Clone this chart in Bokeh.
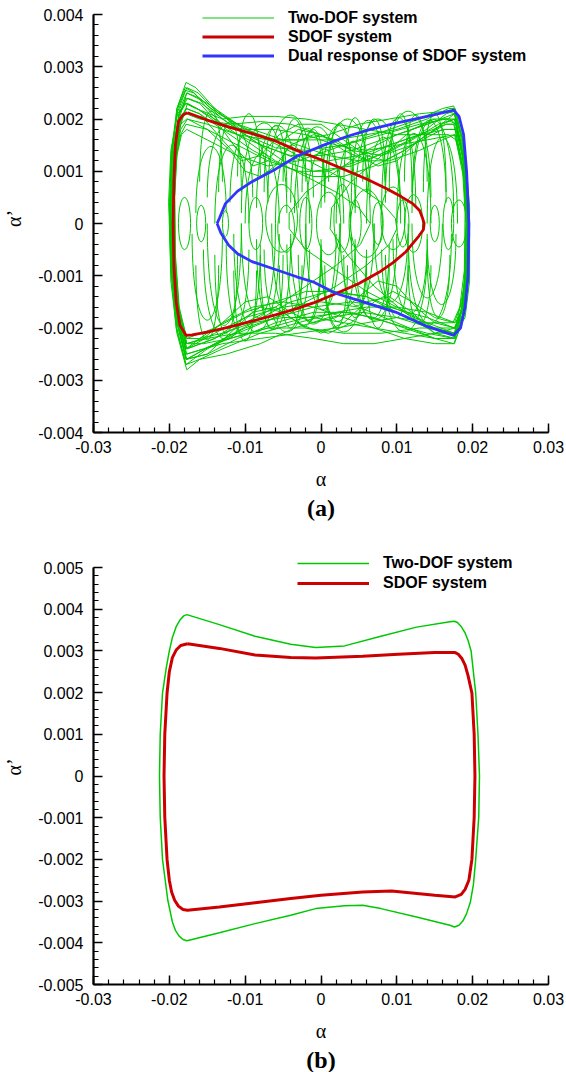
from bokeh.plotting import figure
from bokeh.models import FixedTicker, Legend, LegendItem, Title
from bokeh.layouts import column
from bokeh.embed import file_html
from bokeh.resources import INLINE

# ---------------- tick data ----------------
x_ticks = [-0.03, -0.02, -0.01, 0.0, 0.01, 0.02, 0.03]
x_tick_labels = ["-0.03", "-0.02", "-0.01", "0", "0.01", "0.02", "0.03"]
ya_ticks = [-0.004, -0.003, -0.002, -0.001, 0.0, 0.001, 0.002, 0.003, 0.004]
ya_tick_labels = ["-0.004", "-0.003", "-0.002", "-0.001", "0", "0.001", "0.002", "0.003", "0.004"]
yb_ticks = [-0.005, -0.004, -0.003, -0.002, -0.001, 0.0, 0.001, 0.002, 0.003, 0.004, 0.005]
yb_tick_labels = ["-0.005", "-0.004", "-0.003", "-0.002", "-0.001", "0", "0.001", "0.002", "0.003", "0.004", "0.005"]

# ---------------- panel (a) data ----------------
# SDOF system (red)
sdof_a = [(-0.0176, 0.00212), (-0.0150, 0.00198), (-0.0120, 0.00184), (-0.0091, 0.00172), (-0.0060, 0.00158),
          (-0.0032, 0.00140), (0.0000, 0.00122), (0.0033, 0.00102), (0.0060, 0.00085), (0.0086, 0.00067),
          (0.0105, 0.00052), (0.0121, 0.00038), (0.0130, 0.00025), (0.0134, 0.00010), (0.0136, 0.0),
          (0.0135, -0.00012), (0.0129, -0.00024), (0.0112, -0.00054), (0.0095, -0.00075), (0.0077, -0.00093),
          (0.0050, -0.00115), (0.0020, -0.00134), (-0.0010, -0.00152), (-0.0032, -0.00163), (-0.0060, -0.00175),
          (-0.0091, -0.00187), (-0.0120, -0.00198), (-0.0150, -0.00208), (-0.0170, -0.00213), (-0.0178, -0.00214),
          (-0.0186, -0.00195), (-0.0191, -0.0015), (-0.0194, -0.0008), (-0.0195, 0.0), (-0.0194, 0.0008),
          (-0.0192, 0.0015), (-0.0188, 0.00195), (-0.0182, 0.00208), (-0.0176, 0.00212)]
# Dual response of SDOF system (blue)
dual_a = [(-0.0137, 0.0), (-0.0134, 0.0001), (-0.0126, 0.00038), (-0.0110, 0.00062), (-0.0091, 0.00080),
          (-0.0060, 0.00104), (-0.0030, 0.00130), (0.0000, 0.00148), (0.0033, 0.00166), (0.0065, 0.00180),
          (0.0099, 0.00192), (0.0140, 0.00205), (0.0175, 0.00217), (0.0182, 0.00205), (0.0188, 0.0017),
          (0.0192, 0.0010), (0.0195, 0.0), (0.0194, -0.0010), (0.0190, -0.0016), (0.0184, -0.0020),
          (0.0175, -0.00214), (0.0140, -0.00197), (0.0099, -0.00170), (0.0060, -0.00152), (0.0020, -0.00134),
          (-0.0010, -0.00112), (-0.0032, -0.00102), (-0.0060, -0.00088), (-0.0091, -0.00073), (-0.0110, -0.00058),
          (-0.0122, -0.00041), (-0.0132, -0.00018), (-0.0137, 0.0)]

# Two-DOF system (green): traced orbits
two_dof_a = [
    [(-0.0178, 0.0027), (-0.0165, 0.0026), (-0.0140, 0.0022), (-0.0100, 0.0017), (-0.0060, 0.00145), (-0.0020, 0.0014),
     (0.0030, 0.0015), (0.0080, 0.0017), (0.0130, 0.0019), (0.0165, 0.0020), (0.0178, 0.0019), (0.0188, 0.0012),
     (0.0193, 0.0), (0.0191, -0.0010), (0.0185, -0.0017), (0.0176, -0.0020), (0.0140, -0.0018), (0.0090, -0.0016),
     (0.0040, -0.0015), (-0.0010, -0.0016), (-0.0060, -0.0018), (-0.0110, -0.0021), (-0.0150, -0.0024),
     (-0.0178, -0.0027), (-0.0190, -0.0020), (-0.0197, -0.0010), (-0.0199, 0.0), (-0.0197, 0.0012),
     (-0.0190, 0.0022), (-0.0178, 0.0027)],
    [(-0.0177, 0.0025), (-0.0160, 0.0024), (-0.0130, 0.0020), (-0.0090, 0.0016), (-0.0050, 0.0012), (-0.0010, 0.0010),
     (0.0040, 0.0011), (0.0090, 0.0014), (0.0130, 0.0017), (0.0165, 0.0021), (0.0176, 0.00215), (0.0187, 0.0015),
     (0.0192, 0.0005), (0.0192, -0.0007), (0.0187, -0.0016), (0.0176, -0.0021), (0.0150, -0.0020), (0.0110, -0.0017),
     (0.0060, -0.0014), (0.0010, -0.0013), (-0.0040, -0.0015), (-0.0090, -0.0019), (-0.0140, -0.0023),
     (-0.0177, -0.0026), (-0.0189, -0.0019), (-0.0195, -0.0008), (-0.0196, 0.0004), (-0.0193, 0.0015),
     (-0.0186, 0.0022), (-0.0177, 0.0025)],
    [(-0.0178, 0.0021), (-0.0160, 0.0020), (-0.0120, 0.0019), (-0.0080, 0.00195), (-0.0040, 0.0019), (0.0000, 0.0017),
     (0.0040, 0.0014), (0.0080, 0.0013), (0.0120, 0.0015), (0.0160, 0.0018), (0.0177, 0.0018), (0.0188, 0.0010),
     (0.0191, 0.0), (0.0189, -0.0011), (0.0184, -0.0018), (0.0175, -0.0022), (0.0150, -0.0022), (0.0110, -0.0020),
     (0.0070, -0.0018), (0.0030, -0.0017), (-0.0020, -0.0018), (-0.0070, -0.0020), (-0.0120, -0.0022),
     (-0.0155, -0.0023), (-0.0177, -0.0023), (-0.0187, -0.0017), (-0.0192, -0.0007), (-0.0193, 0.0005),
     (-0.0190, 0.0015), (-0.0184, 0.0020), (-0.0178, 0.0021)],
    [(-0.0179, 0.0023), (-0.0165, 0.0022), (-0.0130, 0.0020), (-0.0100, 0.00205), (-0.0060, 0.00205), (-0.0020, 0.0020),
     (0.0020, 0.0019), (0.0060, 0.0018), (0.0100, 0.0017), (0.0140, 0.0017), (0.0168, 0.0017), (0.0178, 0.0016),
     (0.0189, 0.0008), (0.0196, -0.0002), (0.0193, -0.0012), (0.0186, -0.0019), (0.0175, -0.0023), (0.0150, -0.0022),
     (0.0100, -0.0019), (0.0050, -0.0016), (0.0000, -0.0015), (-0.0050, -0.0016), (-0.0100, -0.0018),
     (-0.0140, -0.0021), (-0.0178, -0.0024), (-0.0191, -0.0018), (-0.0198, -0.0007), (-0.0201, 0.0004),
     (-0.0198, 0.0014), (-0.0189, 0.0021), (-0.0179, 0.0023)],
    [(-0.0177, 0.0026), (-0.0162, 0.0025), (-0.0135, 0.0021), (-0.0100, 0.0018), (-0.0060, 0.0016), (-0.0020, 0.0016),
     (0.0020, 0.0016), (0.0060, 0.0017), (0.0100, 0.0018), (0.0140, 0.0020), (0.0168, 0.0022), (0.0177, 0.0022),
     (0.0190, 0.0014), (0.0196, 0.0003), (0.0195, -0.0008), (0.0189, -0.0016), (0.0177, -0.0019), (0.0140, -0.0017),
     (0.0100, -0.0016), (0.0060, -0.0016), (0.0020, -0.0017), (-0.0030, -0.0019), (-0.0080, -0.0021),
     (-0.0130, -0.0024), (-0.0160, -0.0026), (-0.0177, -0.0028), (-0.0190, -0.0021), (-0.0198, -0.0011),
     (-0.0200, 0.0), (-0.0198, 0.0012), (-0.0190, 0.0021), (-0.0177, 0.0026)],
    [(-0.0178, 0.0019), (-0.0150, 0.0018), (-0.0110, 0.0015), (-0.0070, 0.0012), (-0.0030, 0.0010), (0.0010, 0.0010),
     (0.0050, 0.0012), (0.0090, 0.0015), (0.0130, 0.0017), (0.0165, 0.0019), (0.0175, 0.0019), (0.0186, 0.0012),
     (0.0190, 0.0002), (0.0189, -0.0009), (0.0183, -0.0016), (0.0174, -0.0019), (0.0140, -0.0019), (0.0100, -0.0018),
     (0.0060, -0.0019), (0.0020, -0.0020), (-0.0030, -0.0021), (-0.0080, -0.0022), (-0.0130, -0.0023),
     (-0.0178, -0.0025), (-0.0188, -0.0018), (-0.0193, -0.0008), (-0.0195, 0.0003), (-0.0192, 0.0012),
     (-0.0185, 0.0017), (-0.0178, 0.0019)],
    [(-0.0176, 0.0024), (-0.0158, 0.0023), (-0.0120, 0.0019), (-0.0080, 0.0015), (-0.0040, 0.0013), (0.0000, 0.0013),
     (0.0040, 0.0014), (0.0080, 0.0016), (0.0120, 0.0018), (0.0160, 0.0020), (0.0176, 0.0020), (0.0188, 0.0013),
     (0.0194, 0.0002), (0.0193, -0.0009), (0.0187, -0.0018), (0.0175, -0.0022), (0.0140, -0.0021), (0.0090, -0.0019),
     (0.0040, -0.0017), (-0.0010, -0.0017), (-0.0060, -0.0019), (-0.0110, -0.0022), (-0.0150, -0.0025),
     (-0.0178, -0.0026), (-0.0189, -0.0019), (-0.0196, -0.0009), (-0.0198, 0.0003), (-0.0195, 0.0013),
     (-0.0187, 0.0021), (-0.0176, 0.0024)],
    [(-0.0178, 0.0022), (-0.0160, 0.0021), (-0.0130, 0.0018), (-0.0090, 0.0014), (-0.0050, 0.0011), (-0.0010, 0.0009),
     (0.0030, 0.0009), (0.0070, 0.0011), (0.0110, 0.0014), (0.0150, 0.0018), (0.0176, 0.0021), (0.0187, 0.0016),
     (0.0193, 0.0006), (0.0194, -0.0005), (0.0190, -0.0014), (0.0177, -0.0020), (0.0150, -0.0021), (0.0110, -0.0022),
     (0.0070, -0.0023), (0.0030, -0.0023), (-0.0010, -0.0022), (-0.0060, -0.0021), (-0.0110, -0.0021),
     (-0.0150, -0.0022), (-0.0178, -0.0023), (-0.0188, -0.0017), (-0.0194, -0.0007), (-0.0196, 0.0004),
     (-0.0193, 0.0014), (-0.0186, 0.0020), (-0.0178, 0.0022)],
    [(-0.0177, 0.0020), (-0.0150, 0.0019), (-0.0110, 0.0017), (-0.0070, 0.0016), (-0.0030, 0.0016), (0.0010, 0.0017),
     (0.0050, 0.0019), (0.0090, 0.0020), (0.0130, 0.0021), (0.0165, 0.00215), (0.0176, 0.0021), (0.0189, 0.0012),
     (0.0194, 0.0000), (0.0192, -0.0011), (0.0186, -0.0018), (0.0176, -0.0021), (0.0140, -0.0020), (0.0100, -0.0017),
     (0.0060, -0.0014), (0.0020, -0.0013), (-0.0020, -0.0013), (-0.0060, -0.0015), (-0.0100, -0.0017),
     (-0.0140, -0.0020), (-0.0177, -0.0022), (-0.0188, -0.0016), (-0.0193, -0.0006), (-0.0194, 0.0006),
     (-0.0191, 0.0014), (-0.0185, 0.0019), (-0.0177, 0.0020)],
    [(-0.0179, 0.00255), (-0.0168, 0.0025), (-0.0145, 0.0022), (-0.0110, 0.0019), (-0.0070, 0.0017), (-0.0030, 0.0015),
     (0.0010, 0.0013), (0.0050, 0.0012), (0.0090, 0.0012), (0.0130, 0.0014), (0.0160, 0.0016), (0.0177, 0.0017),
     (0.0188, 0.0010), (0.0192, -0.0001), (0.0190, -0.0011), (0.0185, -0.0017), (0.0176, -0.0020), (0.0130, -0.0020),
     (0.0080, -0.0021), (0.0030, -0.0021), (-0.0020, -0.0020), (-0.0070, -0.0020), (-0.0120, -0.0022),
     (-0.0155, -0.0024), (-0.0177, -0.0025), (-0.0190, -0.0018), (-0.0197, -0.0008), (-0.0199, 0.0004),
     (-0.0196, 0.0015), (-0.0189, 0.0022), (-0.0179, 0.00255)],
    [(-0.0178, 0.0024), (-0.0160, 0.0023), (-0.0135, 0.0019), (-0.0110, 0.0014), (-0.0090, 0.0011), (-0.0070, 0.0012),
     (-0.0050, 0.0016), (-0.0030, 0.0018), (0.0000, 0.0017), (0.0030, 0.0014), (0.0060, 0.0012), (0.0090, 0.0014),
     (0.0120, 0.0018), (0.0150, 0.0020), (0.0170, 0.0020), (0.0178, 0.0019), (0.0189, 0.0011), (0.0195, 0.0001),
     (0.0194, -0.0010), (0.0188, -0.0017), (0.0177, -0.0021), (0.0150, -0.0021), (0.0120, -0.0017),
     (0.0090, -0.0014), (0.0060, -0.0015), (0.0030, -0.0019), (0.0000, -0.0021), (-0.0030, -0.0019),
     (-0.0060, -0.0016), (-0.0090, -0.0017), (-0.0120, -0.0021), (-0.0150, -0.0025), (-0.0178, -0.0026),
     (-0.0190, -0.0019), (-0.0196, -0.0008), (-0.0197, 0.0004), (-0.0194, 0.0014), (-0.0187, 0.0021),
     (-0.0178, 0.0024)],
    [(-0.0177, 0.0022), (-0.0160, 0.0021), (-0.0130, 0.0016), (-0.0105, 0.0012), (-0.0080, 0.0013), (-0.0055, 0.0017),
     (-0.0030, 0.0019), (0.0000, 0.0019), (0.0030, 0.0016), (0.0060, 0.0013), (0.0085, 0.0012), (0.0110, 0.0014),
     (0.0140, 0.0017), (0.0165, 0.0019), (0.0176, 0.0019), (0.0187, 0.0013), (0.0192, 0.0003), (0.0191, -0.0008),
     (0.0186, -0.0015), (0.0176, -0.0019), (0.0150, -0.0018), (0.0120, -0.0015), (0.0095, -0.0013),
     (0.0070, -0.0015), (0.0040, -0.0019), (0.0010, -0.0021), (-0.0020, -0.0020), (-0.0050, -0.0017),
     (-0.0080, -0.0016), (-0.0110, -0.0019), (-0.0140, -0.0022), (-0.0177, -0.0024), (-0.0189, -0.0017),
     (-0.0195, -0.0006), (-0.0195, 0.0006), (-0.0191, 0.0015), (-0.0185, 0.0020), (-0.0177, 0.0022)],
    [(-0.0176, 0.0020), (-0.0150, 0.0018), (-0.0120, 0.0014), (-0.0100, 0.0010), (-0.0080, 0.0009), (-0.0060, 0.0011),
     (-0.0040, 0.0015), (-0.0010, 0.0017), (0.0020, 0.0016), (0.0050, 0.0013), (0.0075, 0.0011), (0.0100, 0.0012),
     (0.0130, 0.0016), (0.0160, 0.0019), (0.0176, 0.0020), (0.0188, 0.0014), (0.0194, 0.0004), (0.0194, -0.0006),
     (0.0189, -0.0015), (0.0177, -0.0020), (0.0150, -0.0019), (0.0125, -0.0016), (0.0100, -0.0012),
     (0.0075, -0.0011), (0.0050, -0.0014), (0.0020, -0.0018), (-0.0010, -0.0019), (-0.0040, -0.0017),
     (-0.0070, -0.0014), (-0.0100, -0.0015), (-0.0130, -0.0019), (-0.0155, -0.0022), (-0.0177, -0.0023),
     (-0.0188, -0.0016), (-0.0193, -0.0006), (-0.0194, 0.0005), (-0.0191, 0.0013), (-0.0185, 0.0018),
     (-0.0176, 0.0020)],
    [(-0.0177, 0.0018), (-0.0150, 0.0016), (-0.0110, 0.0013), (-0.0070, 0.0011), (-0.0030, 0.0012), (0.0010, 0.0014),
     (0.0050, 0.0016), (0.0090, 0.0018), (0.0130, 0.0020), (0.0160, 0.0022), (0.0175, 0.00225), (0.0187, 0.0016),
     (0.0193, 0.0005), (0.0193, -0.0006), (0.0189, -0.0015), (0.0176, -0.0022), (0.0150, -0.0022), (0.0110, -0.0021),
     (0.0070, -0.0020), (0.0030, -0.0019), (-0.0010, -0.0018), (-0.0050, -0.0018), (-0.0090, -0.0019),
     (-0.0130, -0.0021), (-0.0160, -0.0022), (-0.0177, -0.0022), (-0.0187, -0.0016), (-0.0192, -0.0006),
     (-0.0193, 0.0005), (-0.0190, 0.0013), (-0.0184, 0.0017), (-0.0177, 0.0018)],
    [(-0.0178, 0.0023), (-0.0163, 0.0022), (-0.0135, 0.0019), (-0.0100, 0.0018), (-0.0060, 0.0018), (-0.0020, 0.0017),
     (0.0020, 0.0015), (0.0060, 0.0014), (0.0100, 0.0015), (0.0140, 0.0016), (0.0176, 0.0017), (0.0188, 0.0010),
     (0.0193, 0.0000), (0.0193, -0.0010), (0.0188, -0.0018), (0.0176, -0.0023), (0.0150, -0.0023), (0.0110, -0.0022),
     (0.0070, -0.0020), (0.0030, -0.0018), (-0.0010, -0.0016), (-0.0050, -0.0015), (-0.0090, -0.0016),
     (-0.0130, -0.0019), (-0.0160, -0.0022), (-0.0178, -0.0024), (-0.0191, -0.0017), (-0.0197, -0.0006),
     (-0.0198, 0.0006), (-0.0195, 0.0015), (-0.0187, 0.0021), (-0.0178, 0.0023)],
    [(-0.0179, 0.0026), (-0.0167, 0.0025), (-0.0150, 0.0022), (-0.0125, 0.0018), (-0.0095, 0.0016), (-0.0060, 0.0014),
     (-0.0025, 0.0012), (0.0010, 0.0012), (0.0050, 0.0013), (0.0090, 0.0015), (0.0130, 0.0017), (0.0165, 0.0018),
     (0.0178, 0.0018), (0.0190, 0.0011), (0.0196, 0.0000), (0.0196, -0.0011), (0.0190, -0.0018), (0.0177, -0.0021),
     (0.0145, -0.0020), (0.0100, -0.0018), (0.0055, -0.0017), (0.0010, -0.0018), (-0.0035, -0.0020),
     (-0.0080, -0.0023), (-0.0125, -0.0025), (-0.0160, -0.0026), (-0.0178, -0.0027), (-0.0191, -0.0020),
     (-0.0198, -0.0009), (-0.0200, 0.0003), (-0.0197, 0.0014), (-0.0190, 0.0022), (-0.0179, 0.0026)],
    [(-0.0176, 0.0023), (-0.0140, 0.0020), (-0.0100, 0.0016), (-0.0060, 0.0012), (-0.0020, 0.0009), (0.0020, 0.0006),
     (0.0050, 0.0003), (0.0065, 0.0), (0.0052, -0.0004), (0.0020, -0.0008), (-0.0020, -0.0012), (-0.0060, -0.0016),
     (-0.0100, -0.0019), (-0.0140, -0.0022), (-0.0177, -0.0024), (-0.0189, -0.0017), (-0.0194, -0.0005),
     (-0.0193, 0.0008), (-0.0187, 0.0018), (-0.0176, 0.0023)],
    [(-0.0177, 0.0025), (-0.0150, 0.0023), (-0.0110, 0.0019), (-0.0070, 0.0016), (-0.0030, 0.0013), (0.0010, 0.0010),
     (0.0050, 0.0007), (0.0080, 0.0004), (0.0098, 0.0001), (0.0100, -0.0001), (0.0090, -0.0004), (0.0060, -0.0008),
     (0.0020, -0.0012), (-0.0020, -0.0015), (-0.0060, -0.0018), (-0.0100, -0.0020), (-0.0140, -0.0023),
     (-0.0178, -0.0026), (-0.0190, -0.0019), (-0.0196, -0.0006), (-0.0195, 0.0008), (-0.0189, 0.0019),
     (-0.0177, 0.0025)],
    [(0.0176, 0.0021), (0.0189, 0.0012), (0.0193, 0.0), (0.0189, -0.0012), (0.0176, -0.0021), (0.0140, -0.0019),
     (0.0100, -0.0016), (0.0060, -0.0013), (0.0020, -0.0009), (-0.0020, -0.0005), (-0.0042, -0.0001),
     (-0.0042, 0.0002), (-0.0020, 0.0006), (0.0020, 0.0010), (0.0060, 0.0014), (0.0100, 0.0017), (0.0140, 0.0019),
     (0.0176, 0.0021)],
    [(0.0177, 0.0020), (0.0190, 0.0010), (0.0194, -0.0002), (0.0190, -0.0013), (0.0177, -0.0022), (0.0150, -0.0021),
     (0.0110, -0.0017), (0.0070, -0.0012), (0.0035, -0.0006), (0.0012, -0.0001), (0.0014, 0.0003), (0.0040, 0.0008),
     (0.0080, 0.0013), (0.0120, 0.0016), (0.0155, 0.0019), (0.0177, 0.0020)],
]
# small loops of the Two-DOF orbit near alpha' = 0 (centre x, centre y, width, height)
loop_x = [-0.0158, -0.0126, -0.0086, -0.0052, -0.0046, -0.0020, 0.0010, 0.0028, 0.0045, 0.0060, 0.0075,
          0.0095, 0.0108, 0.0122, 0.0150, 0.0168, 0.0182, -0.0180]
loop_y = [0.0, 0.0, 0.0, 0.0001, -0.0001, 0.0, 0.0, 0.0001, 0.0, 0.0, 0.0, 0.0001, 0.0, 0.0, 0.0, 0.0, 0.0, 0.0]
loop_w = [0.0012, 0.0008, 0.0018, 0.0042, 0.0022, 0.0016, 0.0032, 0.0022, 0.0016, 0.0042, 0.0014, 0.0032,
          0.0016, 0.0024, 0.0012, 0.0014, 0.0020, 0.0016]
loop_h = [0.0007, 0.0005, 0.0010, 0.0013, 0.0009, 0.0010, 0.0012, 0.0013, 0.0009, 0.0013, 0.0008, 0.0012,
          0.0009, 0.0011, 0.0007, 0.0010, 0.0009, 0.0010]
# arches of the Two-DOF orbit (start / end points and control heights)
arch_x0 = [-0.0165, -0.0140, -0.0120, -0.0100, -0.0085, -0.0060, -0.0040, -0.0020, 0.0000, 0.0020, 0.0040,
           0.0060, 0.0080, 0.0100, 0.0120, 0.0140,
           -0.0160, -0.0135, -0.0110, -0.0075, -0.0050, -0.0025, 0.0010, 0.0030, 0.0055, 0.0090, 0.0110, 0.0135,
           -0.0150, -0.0105, -0.0070, -0.0035, 0.0005, 0.0045, 0.0085, 0.0120,
           -0.0170, -0.0150, -0.0125, -0.0105, -0.0085, -0.0065, -0.0045, -0.0020, 0.0000, 0.0025, 0.0045,
           0.0070, 0.0095, 0.0120, 0.0140,
           -0.0165, -0.0140, -0.0115, -0.0080, -0.0055, -0.0030, 0.0005, 0.0030, 0.0060, 0.0085, 0.0115, 0.0140,
           -0.0155, -0.0115, -0.0075, -0.0040, 0.0000, 0.0040, 0.0080, 0.0115]
arch_x1 = [-0.0125, -0.0095, -0.0070, -0.0055, -0.0030, -0.0015, 0.0005, 0.0030, 0.0045, 0.0065, 0.0085,
           0.0105, 0.0125, 0.0145, 0.0165, 0.0180,
           -0.0130, -0.0105, -0.0080, -0.0045, -0.0020, 0.0005, 0.0040, 0.0060, 0.0085, 0.0120, 0.0140, 0.0165,
           -0.0090, -0.0045, -0.0010, 0.0025, 0.0065, 0.0105, 0.0145, 0.0175,
           -0.0130, -0.0105, -0.0080, -0.0060, -0.0040, -0.0020, 0.0000, 0.0025, 0.0045, 0.0070, 0.0090,
           0.0115, 0.0140, 0.0160, 0.0178,
           -0.0135, -0.0110, -0.0085, -0.0050, -0.0025, 0.0000, 0.0035, 0.0060, 0.0090, 0.0115, 0.0145, 0.0170,
           -0.0095, -0.0055, -0.0015, 0.0020, 0.0060, 0.0100, 0.0140, 0.0172]
arch_y0 = [0.0002, 0.0000, 0.0004, 0.0000, 0.0003, 0.0000, 0.0004, 0.0000, 0.0003, 0.0000, 0.0004,
           0.0000, 0.0003, 0.0000, 0.0004, 0.0000,
           0.0008, 0.0006, 0.0009, 0.0006, 0.0008, 0.0006, 0.0008, 0.0006, 0.0008, 0.0006, 0.0008, 0.0006,
           0.0005, 0.0002, 0.0005, 0.0002, 0.0005, 0.0002, 0.0005, 0.0002,
           -0.0002, 0.0000, -0.0004, 0.0000, -0.0003, 0.0000, -0.0004, 0.0000, -0.0003, 0.0000, -0.0004,
           0.0000, -0.0003, 0.0000, -0.0002,
           -0.0008, -0.0006, -0.0009, -0.0006, -0.0008, -0.0006, -0.0008, -0.0006, -0.0008, -0.0006, -0.0008, -0.0006,
           -0.0005, -0.0002, -0.0005, -0.0002, -0.0005, -0.0002, -0.0005, -0.0002]
arch_yc = [0.0019, 0.0020, 0.0022, 0.0018, 0.0024, 0.0020, 0.0023, 0.0019, 0.0024, 0.0021, 0.0025,
           0.0022, 0.0026, 0.0023, 0.0025, 0.0022,
           0.0026, 0.0024, 0.0025, 0.0023, 0.0024, 0.0022, 0.0023, 0.0025, 0.0024, 0.0026, 0.0025, 0.0026,
           0.0024, 0.0025, 0.0026, 0.0024, 0.0025, 0.0026, 0.0027, 0.0026,
           -0.0024, -0.0026, -0.0027, -0.0024, -0.0026, -0.0023, -0.0025, -0.0022, -0.0024, -0.0021, -0.0023,
           -0.0020, -0.0022, -0.0019, -0.0020,
           -0.0027, -0.0026, -0.0027, -0.0025, -0.0024, -0.0023, -0.0024, -0.0022, -0.0024, -0.0022, -0.0023, -0.0022,
           -0.0028, -0.0027, -0.0026, -0.0025, -0.0026, -0.0024, -0.0026, -0.0025]

# ---------------- panel (b) data ----------------
two_dof_b = [(-0.0177, 0.00387), (-0.0134, 0.00363), (-0.0087, 0.00335), (-0.0040, 0.00316), (-0.0007, 0.00308),
             (0.0031, 0.00312), (0.0079, 0.00335), (0.0126, 0.00357), (0.0170, 0.00370), (0.0176, 0.00371),
             (0.0180, 0.00368), (0.0185, 0.00358), (0.0190, 0.00343), (0.0194, 0.00325), (0.0198, 0.00299),
             (0.0204, 0.00199), (0.0207, 0.0010), (0.0209, 0.0),
             (0.0208, -0.00099), (0.0204, -0.0020), (0.0201, -0.0026), (0.0197, -0.00302), (0.0192, -0.00330),
             (0.0187, -0.00348), (0.0182, -0.00358), (0.0176, -0.00362), (0.0170, -0.00358),
             (0.0126, -0.00338), (0.0079, -0.00318), (0.0055, -0.00310), (0.0031, -0.00311),
             (-0.0007, -0.00318), (-0.0040, -0.00334), (-0.0087, -0.00354), (-0.0134, -0.00376), (-0.0170, -0.00392),
             (-0.0177, -0.00395), (-0.0182, -0.00392), (-0.0187, -0.00384), (-0.0192, -0.00370), (-0.0196, -0.00350),
             (-0.0202, -0.00298), (-0.0209, -0.0020), (-0.0212, -0.00099),
             (-0.0213, 0.0), (-0.0212, 0.0010), (-0.0209, 0.00199), (-0.0204, 0.0026), (-0.0200, 0.00300),
             (-0.0196, 0.00332), (-0.0191, 0.00358), (-0.0186, 0.00374), (-0.0181, 0.00384), (-0.0177, 0.00387)]
sdof_b = [(-0.0176, 0.00317), (-0.0134, 0.00306), (-0.0087, 0.00290), (-0.0040, 0.00284), (-0.0007, 0.00283),
          (0.0055, 0.00287), (0.0102, 0.00292), (0.0150, 0.00296), (0.0177, 0.00296), (0.0181, 0.00292),
          (0.0186, 0.00281), (0.0190, 0.00266), (0.0194, 0.00240), (0.0199, 0.00199), (0.0202, 0.0010),
          (0.0203, 0.0), (0.0202, -0.00099), (0.0199, -0.0020), (0.0195, -0.0025), (0.0190, -0.00272),
          (0.0185, -0.00284), (0.0177, -0.0029), (0.0150, -0.00286), (0.0093, -0.00276), (0.0055, -0.00278),
          (0.0000, -0.00286), (-0.0040, -0.00294), (-0.0087, -0.00304), (-0.0134, -0.00314), (-0.0176, -0.00322),
          (-0.0182, -0.00320), (-0.0188, -0.00312), (-0.0193, -0.00298), (-0.0197, -0.00278), (-0.0200, -0.0025),
          (-0.0203, -0.0020), (-0.0206, -0.00099), (-0.0207, 0.0), (-0.0206, 0.0010), (-0.0203, 0.00199),
          (-0.0200, 0.00250), (-0.0196, 0.00284), (-0.0191, 0.00302), (-0.0185, 0.00313), (-0.0176, 0.00317)]

GREEN = "#00c800"
RED = "#cc0000"
BLUE = "#3333ff"
TICK_FONT = "Liberation Sans"


def xs_of(path):
    return [p[0] for p in path]


def ys_of(path):
    return [p[1] for p in path]


def style(p, yt, ylabels, ystep):
    p.outline_line_color = None
    p.xgrid.visible = False
    p.ygrid.visible = False
    x_minor = [round(-0.03 + 0.002 * i, 4) for i in range(31)]
    n = int(round((yt[-1] - yt[0]) / (ystep / 5)))
    y_minor = [round(yt[0] + ystep / 5 * i, 5) for i in range(n + 1)]
    p.xaxis.ticker = FixedTicker(ticks=x_ticks, minor_ticks=x_minor)
    p.yaxis.ticker = FixedTicker(ticks=yt, minor_ticks=y_minor)
    p.xaxis.major_label_overrides = {t: s for t, s in zip(x_ticks, x_tick_labels)}
    p.yaxis.major_label_overrides = {t: s for t, s in zip(yt, ylabels)}
    p.yaxis.bounds = (yt[0], yt[-1])
    for ax in (p.xaxis[0], p.yaxis[0]):
        ax.axis_line_width = 2.2
        ax.axis_line_color = "black"
        ax.major_tick_in = 9
        ax.major_tick_out = 0
        ax.minor_tick_in = 5
        ax.minor_tick_out = 0
        ax.major_tick_line_width = 1.5
        ax.minor_tick_line_width = 1.2
        ax.major_tick_line_color = "black"
        ax.minor_tick_line_color = "black"
        ax.major_label_text_font = TICK_FONT
        ax.major_label_text_font_size = "16px"
        ax.major_label_text_color = "black"
        ax.axis_label_text_font = "Liberation Serif"
        ax.axis_label_text_font_size = "20px"
        ax.axis_label_text_font_style = "normal"
        ax.axis_label_text_color = "black"
    p.xaxis.major_label_standoff = 8
    p.yaxis.major_label_standoff = 10
    p.xaxis.axis_label = "α"
    p.yaxis.axis_label = "α’"
    p.xaxis.axis_label_standoff = 12
    p.yaxis.axis_label_standoff = 10


def make_legend(items, loc, gh):
    return Legend(items=items, location=loc, label_text_font=TICK_FONT, label_text_font_style="bold",
                  label_text_font_size="16px", label_text_color="black", glyph_width=72, glyph_height=gh,
                  label_height=gh, label_standoff=14, spacing=0, padding=0, margin=0,
                  border_line_alpha=0, background_fill_alpha=0)


# ---------------- figure (a) ----------------
# y range extends 10 px above the 0.004 tick so that the legend is not clipped
pa = figure(width=566, height=522, x_range=(-0.03, 0.03), y_range=(-0.004, 0.0041914),
            output_backend="svg", toolbar_location=None,
            min_border_left=90, min_border_right=18, min_border_top=4, min_border_bottom=90)
style(pa, ya_ticks, ya_tick_labels, 0.001)

g_lines = pa.multi_line(xs=[xs_of(c) for c in two_dof_a], ys=[ys_of(c) for c in two_dof_a],
                        line_color=GREEN, line_width=1)
pa.ellipse(x=loop_x, y=loop_y, width=loop_w, height=loop_h, fill_color=None, line_color=GREEN, line_width=1)
pa.bezier(x0=arch_x0, y0=arch_y0, x1=arch_x1, y1=arch_y0, cx0=arch_x0, cy0=arch_yc, cx1=arch_x1, cy1=arch_yc,
          line_color=GREEN, line_width=1)
r_line = pa.line(xs_of(sdof_a), ys_of(sdof_a), line_color=RED, line_width=2.8)
b_line = pa.line(xs_of(dual_a), ys_of(dual_a), line_color=BLUE, line_width=2.8)

leg_a = make_legend([LegendItem(label="Two-DOF system", renderers=[g_lines]),
                     LegendItem(label="SDOF system", renderers=[r_line]),
                     LegendItem(label="Dual response of SDOF system", renderers=[b_line])], (109, 367), 19)
pa.add_layout(leg_a, "center")
pa.add_layout(Title(text="(a)", align="center", text_font="Liberation Serif", text_font_style="bold",
                    text_font_size="24px", text_color="black", standoff=0), "below")

# ---------------- figure (b) ----------------
# y range extends 18 px above the 0.005 tick so that the legend is not clipped
pb = figure(width=566, height=550, x_range=(-0.03, 0.03), y_range=(-0.005, 0.0054317),
            output_backend="svg", toolbar_location=None,
            min_border_left=90, min_border_right=18, min_border_top=27, min_border_bottom=88)
style(pb, yb_ticks, yb_tick_labels, 0.001)
g_b = pb.line(xs_of(two_dof_b), ys_of(two_dof_b), line_color=GREEN, line_width=1.5)
r_b = pb.line(xs_of(sdof_b), ys_of(sdof_b), line_color=RED, line_width=3)
leg_b = make_legend([LegendItem(label="Two-DOF system", renderers=[g_b]),
                     LegendItem(label="SDOF system", renderers=[r_b])], (204, 391), 20)
pb.add_layout(leg_b, "center")
pb.add_layout(Title(text="(b)", align="center", text_font="Liberation Serif", text_font_style="bold",
                    text_font_size="24px", text_color="black", standoff=0), "below")

layout = column(pa, pb, spacing=0)
open("out.html", "w").write(file_html(layout, INLINE))
